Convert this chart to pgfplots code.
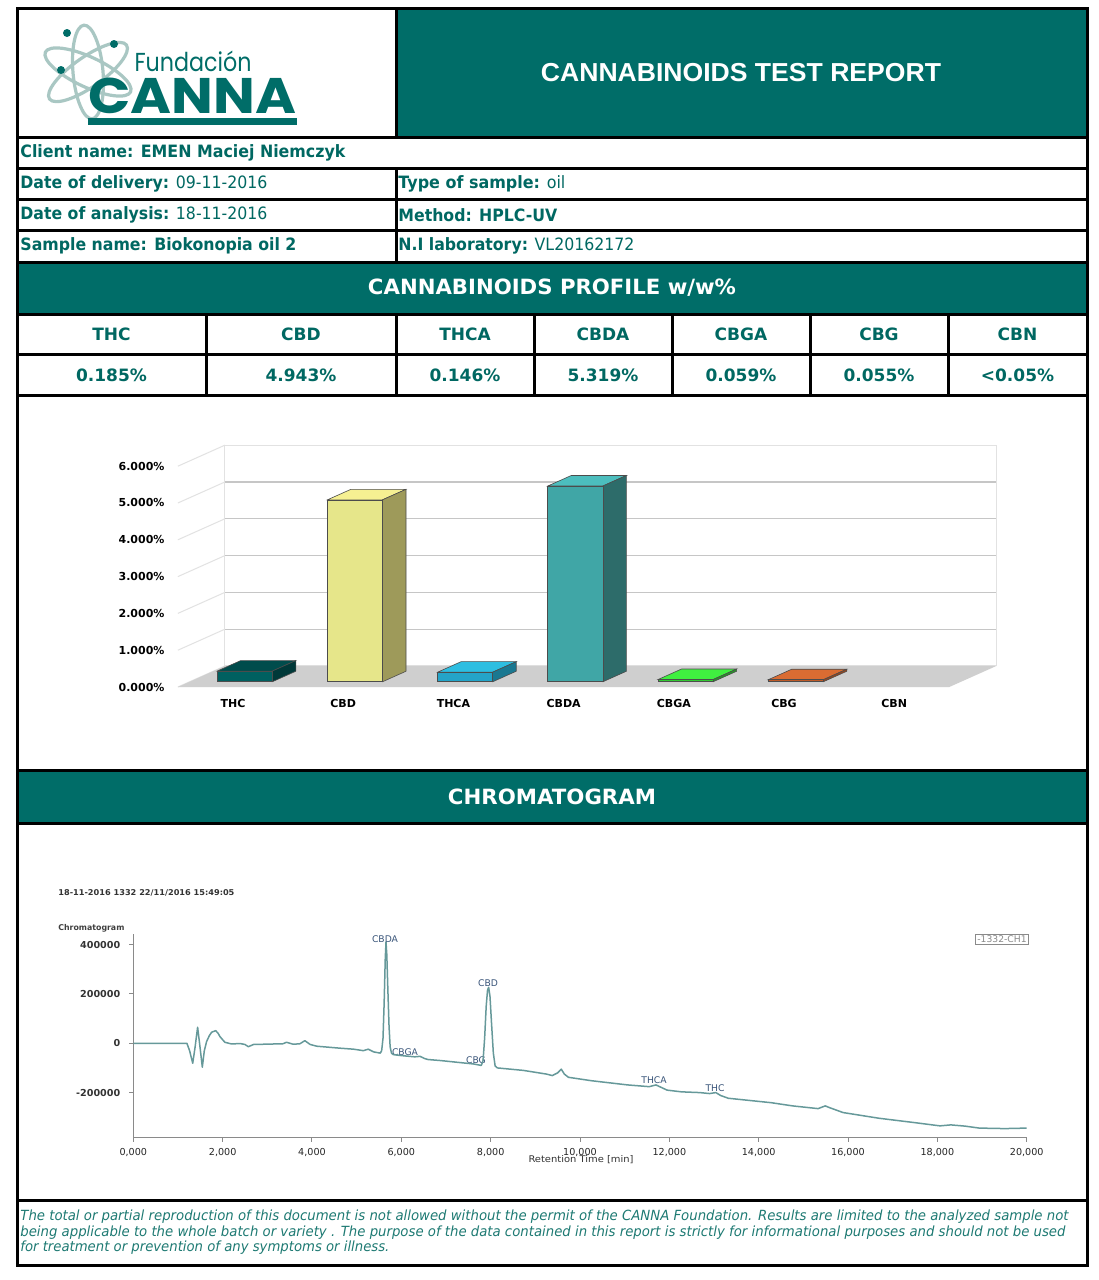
\documentclass[border=0pt]{standalone}
\usepackage{pgfplots}
\pgfplotsset{compat=1.18}
\usepackage{fontspec}
\usepackage{graphicx}
\setmainfont{DejaVu Sans}
\newfontfamily\arialf{Liberation Sans}
\newfontfamily\logofont{Poppins}
\definecolor{teal1}{HTML}{006D68}
\definecolor{tealtxt}{HTML}{006862}
\definecolor{foottxt}{HTML}{1E7A73}
\definecolor{logogray}{HTML}{A9C7C3}
\definecolor{floorgray}{HTML}{CFCFCF}
\definecolor{gridgray}{HTML}{C6C6C6}
\definecolor{wallgray}{HTML}{E2E2E2}
\definecolor{axisgray}{HTML}{8A8A8A}
\definecolor{chromline}{HTML}{66999A}
\definecolor{peaklbl}{HTML}{3A557A}
\newcommand\fitw[2]{\resizebox{#1}{\height}{#2}}
\newcommand\infofont{\fontsize{8.5}{10}\selectfont}
\begin{document}
\begin{tikzpicture}
\useasboundingbox (0,0) rectangle (549pt,-640pt);
\begin{scope}[x=0.5pt,y=-0.5pt]
\fill[white] (0,0) rectangle (1098,1280);
\fill[teal1] (396,8) rectangle (1087,137);
\fill[teal1] (17,262) rectangle (1087,314);
\fill[teal1] (17,770) rectangle (1087,823);
% logo
\begin{scope}[shift={(88,72)}]
\draw[logogray, line width=1.6pt, rotate=35] (0,0) ellipse (47 and 15);
\draw[logogray, line width=1.6pt, rotate=95] (0,0) ellipse (47 and 15);
\draw[logogray, line width=1.6pt, rotate=155] (0,0) ellipse (47 and 15);
\end{scope}
\fill[teal1] (67,33) circle (4);
\fill[teal1] (114,44) circle (4);
\fill[teal1] (61,70) circle (4);
\node[text=teal1, inner sep=0] at (193,61) {\fitw{58.5pt}{\logofont\fontsize{13}{13}\selectfont Fundación}};
\node[text=teal1, inner sep=0] at (192,96) {\fitw{104pt}{\logofont\bfseries\fontsize{25}{25}\selectfont CANNA}};
\fill[teal1] (88,118) rectangle (297,125);
% title
\node[text=white, inner sep=0] at (741,73) {\fitw{200pt}{\arialf\bfseries\fontsize{13}{13}\selectfont CANNABINOIDS TEST REPORT}};
% info rows
\node[anchor=west, text=tealtxt, inner sep=0] at (20,153) {\fitw{162.5pt}{\infofont\bfseries Client name: EMEN Maciej Niemczyk}};
\node[anchor=west, text=tealtxt, inner sep=0] at (20,184) {\fitw{123.5pt}{\infofont\textbf{Date of delivery:} 09-11-2016}};
\node[anchor=west, text=tealtxt, inner sep=0] at (20,215) {\fitw{123.5pt}{\infofont\textbf{Date of analysis:} 18-11-2016}};
\node[anchor=west, text=tealtxt, inner sep=0] at (20,246) {\fitw{138pt}{\infofont\bfseries Sample name: Biokonopia oil 2}};
\node[anchor=west, text=tealtxt, inner sep=0] at (398,184) {\fitw{83.5pt}{\infofont\textbf{Type of sample:} oil}};
\node[anchor=west, text=tealtxt, inner sep=0] at (398,215) {\fitw{79.5pt}{\infofont\bfseries Method: HPLC-UV}};
\node[anchor=west, text=tealtxt, inner sep=0] at (398,246) {\fitw{118pt}{\infofont\textbf{N.I laboratory:} VL20162172}};
\node[text=white, inner sep=0] at (552,288) {\fitw{184pt}{\fontsize{10.5}{12}\selectfont\bfseries CANNABINOIDS PROFILE w/w\%}};
% profile table
\foreach \xx/\nm/\vv in {111.5/THC/0.185\%, 301/CBD/4.943\%, 465/THCA/0.146\%, 603/CBDA/5.319\%, 741/CBGA/0.059\%, 879/CBG/0.055\%, 1017.5/CBN/<0.05\%}{
  \node[text=tealtxt, inner sep=0] at (\xx,334) {\infofont\bfseries \nm};
  \node[text=tealtxt, inner sep=0] at (\xx,375) {\infofont\bfseries \vv};
}
\node[text=white, inner sep=0] at (552,797) {\fitw{104pt}{\fontsize{10.5}{12}\selectfont\bfseries CHROMATOGRAM}};
% chromatogram texts
\node[anchor=west, inner sep=0, text=black!80] at (58,893) {\fitw{88pt}{\fontsize{4}{5}\selectfont\bfseries 18-11-2016 1332 22/11/2016 15:49:05}};
\node[anchor=west, inner sep=0, text=black!75] at (58,928) {\fitw{33pt}{\fontsize{4}{5}\selectfont\bfseries Chromatogram}};
\node[inner sep=0, text=black!80] at (581,1160) {\fitw{52.5pt}{\fontsize{4.6}{5}\selectfont Retention Time [min]}};
\node[draw=axisgray, line width=0.4pt, inner sep=0.8pt, text=axisgray] at (1002,939) {\fontsize{4.6}{5}\selectfont -1332-CH1};
\foreach \xx/\yy/\nm in {385/939/CBDA, 488/983/CBD, 405/1052/CBGA, 476/1060/CBG, 654/1080/THCA, 715/1088/THC}{
  \node[inner sep=0, text=peaklbl] at (\xx,\yy) {\fontsize{4.6}{5}\selectfont \nm};
}
% footer
\node[anchor=west, text=foottxt, inner sep=0] at (20,1217) {\fitw{524pt}{\fontsize{7}{8}\selectfont\itshape The total or partial reproduction of this document is not allowed without the permit of the CANNA Foundation. Results are limited to the analyzed sample not}};
\node[anchor=west, text=foottxt, inner sep=0] at (20,1232.5) {\fitw{522.5pt}{\fontsize{7}{8}\selectfont\itshape being applicable to the whole batch or variety . The purpose of the data contained in this report is strictly for informational purposes and should not be used}};
\node[anchor=west, text=foottxt, inner sep=0] at (20,1248) {\fitw{184.5pt}{\fontsize{7}{8}\selectfont\itshape for treatment or prevention of any symptoms or illness.}};
\end{scope}

% ---------- bar chart ----------
\begin{axis}[at={(88.95pt,-343.5pt)}, anchor=south west, scale only axis,
  width=413.25pt, height=123.3pt, xmin=-0.5, xmax=7, ymin=0, ymax=6.7,
  axis line style={draw=none}, major tick length=0pt, clip=false,
  xtick={0,1,2,3,4,5,6}, xticklabels={THC,CBD,THCA,CBDA,CBGA,CBG,CBN},
  ytick={0,1,2,3,4,5,6}, yticklabels={0.000\%,1.000\%,2.000\%,3.000\%,4.000\%,5.000\%,6.000\%},
  ticklabel style={font=\fontsize{5.5}{6}\selectfont\bfseries, text=black},
  xticklabel style={yshift=-2.6pt}, yticklabel style={xshift=-3.2pt}]
\addplot[draw=wallgray, fill=white, line width=0.5pt] coordinates {(-0.0735,0.571) (6.9265,0.571) (6.9265,6.571) (-0.0735,6.571)} -- cycle;
\addplot[gridgray, line width=0.6pt] coordinates {(-0.0735,1.571) (6.9265,1.571)};
\addplot[gridgray, line width=0.6pt] coordinates {(-0.0735,2.571) (6.9265,2.571)};
\addplot[gridgray, line width=0.6pt] coordinates {(-0.0735,3.571) (6.9265,3.571)};
\addplot[gridgray, line width=0.6pt] coordinates {(-0.0735,4.571) (6.9265,4.571)};
\addplot[gridgray, line width=0.6pt] coordinates {(-0.0735,5.571) (6.9265,5.571)};
\addplot[wallgray, line width=0.5pt] coordinates {(-0.5,0) (-0.0735,0.571)};
\addplot[wallgray, line width=0.5pt] coordinates {(-0.5,1) (-0.0735,1.571)};
\addplot[wallgray, line width=0.5pt] coordinates {(-0.5,2) (-0.0735,2.571)};
\addplot[wallgray, line width=0.5pt] coordinates {(-0.5,3) (-0.0735,3.571)};
\addplot[wallgray, line width=0.5pt] coordinates {(-0.5,4) (-0.0735,4.571)};
\addplot[wallgray, line width=0.5pt] coordinates {(-0.5,5) (-0.0735,5.571)};
\addplot[wallgray, line width=0.5pt] coordinates {(-0.5,6) (-0.0735,6.571)};
\addplot[fill=floorgray, draw=none] coordinates {(-0.5,0) (6.5,0) (6.9265,0.571) (-0.0735,0.571)} -- cycle;
% THC
\addplot[fill=teal!60!black, draw=black!70, line width=0.3pt] coordinates {(-0.1434,0.4328) (0.3566,0.4328) (0.5699,0.7183) (0.0699,0.7183)} -- cycle;
\addplot[fill=teal!45!black, draw=black!70, line width=0.3pt] coordinates {(0.3566,0.1428) (0.5699,0.4283) (0.5699,0.7183) (0.3566,0.4328)} -- cycle;
\addplot[fill=teal!75!black, draw=black!70, line width=0.3pt] coordinates {(-0.1434,0.1428) (0.3566,0.1428) (0.3566,0.4328) (-0.1434,0.4328)} -- cycle;
% CBD
\addplot[fill={rgb,255:red,246;green,240;blue,146}, draw=black!70, line width=0.3pt] coordinates {(0.8566,5.0858) (1.3566,5.0858) (1.5699,5.3713) (1.0699,5.3713)} -- cycle;
\addplot[fill={rgb,255:red,158;green,154;blue,90}, draw=black!70, line width=0.3pt] coordinates {(1.3566,0.1428) (1.5699,0.4283) (1.5699,5.3713) (1.3566,5.0858)} -- cycle;
\addplot[fill={rgb,255:red,230;green,230;blue,138}, draw=black!70, line width=0.3pt] coordinates {(0.8566,0.1428) (1.3566,0.1428) (1.3566,5.0858) (0.8566,5.0858)} -- cycle;
% THCA
\addplot[fill={rgb,255:red,45;green,190;blue,225}, draw=black!70, line width=0.3pt] coordinates {(1.8566,0.4028) (2.3566,0.4028) (2.5699,0.6883) (2.0699,0.6883)} -- cycle;
\addplot[fill={rgb,255:red,26;green,120;blue,145}, draw=black!70, line width=0.3pt] coordinates {(2.3566,0.1428) (2.5699,0.4283) (2.5699,0.6883) (2.3566,0.4028)} -- cycle;
\addplot[fill={rgb,255:red,36;green,164;blue,200}, draw=black!70, line width=0.3pt] coordinates {(1.8566,0.1428) (2.3566,0.1428) (2.3566,0.4028) (1.8566,0.4028)} -- cycle;
% CBDA
\addplot[fill={rgb,255:red,76;green,190;blue,190}, draw=black!70, line width=0.3pt] coordinates {(2.8566,5.4618) (3.3566,5.4618) (3.5699,5.7473) (3.0699,5.7473)} -- cycle;
\addplot[fill={rgb,255:red,45;green,108;blue,106}, draw=black!70, line width=0.3pt] coordinates {(3.3566,0.1428) (3.5699,0.4283) (3.5699,5.7473) (3.3566,5.4618)} -- cycle;
\addplot[fill={rgb,255:red,64;green,166;blue,166}, draw=black!70, line width=0.3pt] coordinates {(2.8566,0.1428) (3.3566,0.1428) (3.3566,5.4618) (2.8566,5.4618)} -- cycle;
% CBGA
\addplot[fill={rgb,255:red,64;green,240;blue,64}, draw=black!70, line width=0.3pt] coordinates {(3.8566,0.2028) (4.3566,0.2028) (4.5699,0.4883) (4.0699,0.4883)} -- cycle;
\addplot[fill={rgb,255:red,40;green,150;blue,40}, draw=black!70, line width=0.3pt] coordinates {(4.3566,0.1428) (4.5699,0.4283) (4.5699,0.4883) (4.3566,0.2028)} -- cycle;
\addplot[fill={rgb,255:red,50;green,200;blue,50}, draw=black!70, line width=0.3pt] coordinates {(3.8566,0.1428) (4.3566,0.1428) (4.3566,0.2028) (3.8566,0.2028)} -- cycle;
% CBG
\addplot[fill={rgb,255:red,218;green,108;blue,50}, draw=black!70, line width=0.3pt] coordinates {(4.8566,0.1978) (5.3566,0.1978) (5.5699,0.4833) (5.0699,0.4833)} -- cycle;
\addplot[fill={rgb,255:red,150;green,70;blue,30}, draw=black!70, line width=0.3pt] coordinates {(5.3566,0.1428) (5.5699,0.4283) (5.5699,0.4833) (5.3566,0.1978)} -- cycle;
\addplot[fill={rgb,255:red,190;green,90;blue,40}, draw=black!70, line width=0.3pt] coordinates {(4.8566,0.1428) (5.3566,0.1428) (5.3566,0.1978) (4.8566,0.1978)} -- cycle;
\end{axis}

% ---------- chromatogram ----------
\begin{axis}[at={(66.65pt,-568.85pt)}, anchor=south west, scale only axis,
  width=446.7pt, height=101.85pt, xmin=0, xmax=20, ymin=-383000, ymax=443000,
  axis x line*=bottom, axis y line*=left, axis line style={draw=axisgray, -, line width=0.6pt},
  xtick={0,2,4,6,8,10,12,14,16,18,20},
  xticklabels={{0,000},{2,000},{4,000},{6,000},{8,000},{10,000},{12,000},{14,000},{16,000},{18,000},{20,000}},
  ytick={-200000,0,200000,400000}, yticklabels={-200000,0,200000,400000},
  scaled y ticks=false, tick align=outside, major tick length=2pt,
  tick style={draw=axisgray, line width=0.5pt}, clip=false,
  xticklabel style={font=\fontsize{4.8}{5}\selectfont, text=black!85},
  yticklabel style={font=\fontsize{4.8}{5}\selectfont\bfseries, text=black!80, xshift=-1pt}]
\addplot[chromline, line width=0.75pt, line join=round] coordinates {
(0,0) (1.20,0) (1.26,-30000) (1.33,-81000) (1.38,-20000) (1.44,65000) (1.49,-10000) (1.545,-97000) (1.59,-30000) (1.64,6500) (1.70,30000) (1.755,45000) (1.845,51000) (1.90,40000) (1.94,27000) (2.05,4000) (2.2,-3000) (2.39,-1000) (2.50,-5000) (2.575,-14000) (2.69,-5000) (3.13,-3000) (3.35,-2000) (3.43,4000) (3.58,-4000) (3.73,-2000) (3.84,10500) (3.96,-5000) (4.11,-12000) (4.63,-20000) (4.93,-24000) (5.15,-30000) (5.26,-24000) (5.38,-35000) (5.53,-40000) (5.56,-30000) (5.59,20000) (5.615,160000) (5.64,340000) (5.657,410000) (5.675,360000) (5.70,210000) (5.725,70000) (5.75,-15000) (5.78,-40000) (5.82,-46000) (6.0,-50000) (6.3,-55000) (6.42,-53000) (6.52,-62000) (6.6,-66000) (6.87,-70000) (7.62,-84000) (7.79,-90000) (7.83,-70000) (7.865,20000) (7.90,150000) (7.93,215000) (7.955,227000) (7.985,190000) (8.02,80000) (8.06,-40000) (8.10,-92000) (8.15,-100000) (8.73,-110000) (9.25,-125000) (9.38,-131000) (9.50,-120000) (9.58,-105000) (9.65,-125000) (9.74,-138000) (10.26,-152000) (11.07,-169000) (11.55,-176000) (11.70,-169000) (11.95,-190000) (12.27,-197000) (12.68,-200000) (12.9,-204000) (13.04,-200000) (13.15,-212000) (13.32,-223000) (14.28,-241000) (14.76,-254000) (15.33,-265000) (15.49,-254000) (15.6,-262000) (15.89,-281000) (16.69,-304000) (17.50,-322000) (18.06,-335000) (18.30,-331000) (18.62,-336000) (18.94,-344000) (19.51,-346000) (20.0,-344000)};
\end{axis}

% ---------- frame lines ----------
\begin{scope}[x=0.5pt,y=-0.5pt, line width=1.5pt, black]
\draw (17,8) rectangle (1087,1265);
\draw (17,137)--(1087,137) (396,8)--(396,137);
\draw (17,168)--(1087,168) (17,199)--(1087,199) (17,230)--(1087,230) (17,262)--(1087,262);
\draw (396,168)--(396,262);
\draw (17,314)--(1087,314) (17,354)--(1087,354) (17,395)--(1087,395);
\foreach \xx in {206,396,534,672,810,948} {\draw (\xx,314)--(\xx,395);}
\draw (17,770)--(1087,770) (17,823)--(1087,823) (17,1200)--(1087,1200);
\end{scope}
\end{tikzpicture}
\end{document}
